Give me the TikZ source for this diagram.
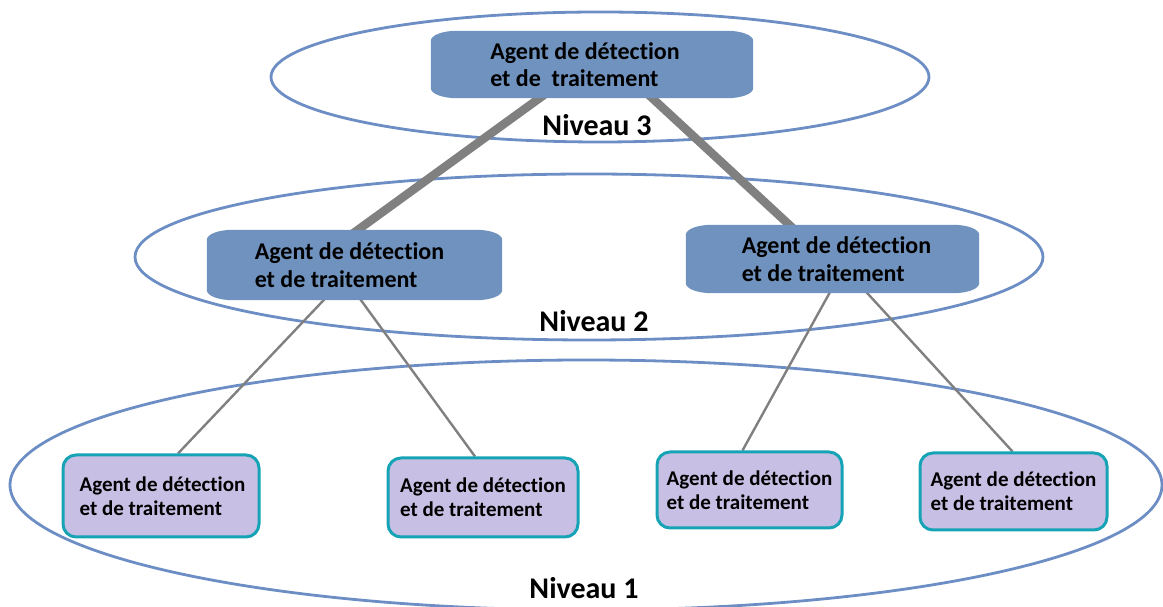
\documentclass[tikz,border=0pt]{standalone}
\usepackage{fontspec}
\setmainfont{Carlito}[Ligatures={CommonOff,ContextualOff}]
\pgfdeclarelayer{background}
\pgfsetlayers{background,main}

\definecolor{ringblue}{RGB}{108,142,196}
\definecolor{boxblue}{RGB}{112,146,190}
\definecolor{leafedge}{RGB}{22,163,181}
\definecolor{leaffill}{RGB}{200,192,228}
\definecolor{linkgray}{RGB}{128,128,128}

\tikzset{
  ring/.style={draw=ringblue, line width=2.8pt},
  upper/.style={shape=rectangle, inner sep=0pt, align=left,
    font=\bfseries\fontsize{24}{27.5}\selectfont},
  leaf/.style={shape=rectangle, inner sep=0pt, rounded corners=13pt,
    draw=leafedge, line width=3pt, fill=leaffill, align=left,
    font=\bfseries\fontsize{21}{24}\selectfont},
  levellabel/.style={font=\bfseries\fontsize{30}{32}\selectfont, inner sep=0pt},
  thicklink/.style={draw=linkgray, line width=8.5pt},
  thinlink/.style={draw=linkgray, line width=2.4pt},
}

% filled box with flattened elliptical corners, behind the named node
\newcommand\flatbox[1]{%
  \fill[boxblue]
    ([xshift=26pt]#1.north west) -- ([xshift=-26pt]#1.north east)
    arc[start angle=90, end angle=0, x radius=26pt, y radius=10pt]
    -- ([yshift=10pt]#1.south east)
    arc[start angle=0, end angle=-90, x radius=26pt, y radius=10pt]
    -- ([xshift=26pt]#1.south west)
    arc[start angle=270, end angle=180, x radius=26pt, y radius=10pt]
    -- ([yshift=-10pt]#1.north west)
    arc[start angle=180, end angle=90, x radius=26pt, y radius=10pt]
    -- cycle;}

\begin{document}
\begin{tikzpicture}[x=1pt, y=1pt]
\useasboundingbox (0,0) rectangle (1163,607);
\clip (0,0) rectangle (1163,607);

% level labels
\node[levellabel] (n3) at (597,482) {Niveau 3};
\node[levellabel] (n2) at (594,286) {Niveau 2};
\node[levellabel] (n1) at (584,19) {Niveau 1};

% level 3 and level 2 agents
\node[upper, minimum width=322pt, minimum height=67pt] (top) at (592,542.5)
  {Agent de détection\hspace*{14pt}\\et de\ \ traitement};
\node[upper, minimum width=295pt, minimum height=70pt] (midl) at (354.5,342)
  {Agent de détection\hspace*{10pt}\\et de traitement};
\node[upper, minimum width=293pt, minimum height=68pt] (midr) at (832.5,348)
  {\hspace*{8pt}Agent de détection\\\hspace*{8pt}et de traitement};

% level 1 agents
\node[leaf, minimum width=196pt, minimum height=82pt] (b1) at (161,111)
  {\hspace*{3pt}Agent de détection\\\hspace*{3pt}et de traitement};
\node[leaf, minimum width=190pt, minimum height=79pt] (b2) at (483,109.5)
  {Agent de détection\\et de traitement};
\node[leaf, minimum width=185pt, minimum height=76pt] (b3) at (749.5,117)
  {Agent de détection\\et de traitement};
\node[leaf, minimum width=187pt, minimum height=77pt] (b4) at (1013.5,115.5)
  {Agent de détection\\et de traitement};

\begin{pgfonlayer}{background}
  % level rings
  \draw[ring] (600,530) ellipse[x radius=329, y radius=65];
  \draw[ring] (589,350) ellipse[x radius=454, y radius=83];
  \draw[ring] (586,122) ellipse[x radius=576, y radius=125];

  % links between levels
  \draw[thicklink] ([xshift=-47pt,yshift=4pt]top.south) -- ([xshift=-2pt,yshift=-4pt]midl.north);
  \draw[thicklink] ([xshift=56pt,yshift=4pt]top.south) -- ([xshift=-39pt,yshift=-4pt]midr.north);
  \draw[thinlink] ([xshift=-29pt,yshift=2pt]midl.south) -- ([xshift=17pt]b1.north);
  \draw[thinlink] ([xshift=5pt,yshift=2pt]midl.south) -- ([xshift=-8pt]b2.north);
  \draw[thinlink] ([xshift=-2pt,yshift=2pt]midr.south) -- ([xshift=-7pt]b3.north);
  \draw[thinlink] ([xshift=33pt,yshift=2pt]midr.south) -- ([xshift=-1pt]b4.north);

  % box bodies of the upper agents
  \flatbox{top}
  \flatbox{midl}
  \flatbox{midr}
\end{pgfonlayer}
\end{tikzpicture}
\end{document}
